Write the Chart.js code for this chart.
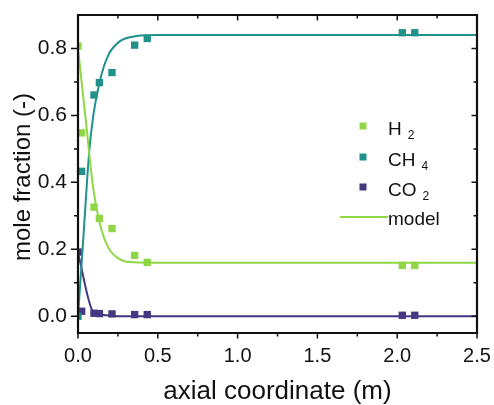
<!DOCTYPE html>
<html>
<head>
<meta charset="utf-8">
<script src="https://cdn.jsdelivr.net/npm/chart.js@4"></script>
<style>
  html, body { margin: 0; padding: 0; background: #fff; }
</style>
</head>
<body>
<canvas id="moleChart" width="494" height="405"></canvas>
<script>
const expX   = [0, 0.023, 0.10, 0.134, 0.213, 0.355, 0.434, 2.032, 2.11];
const h2Exp  = [0.807, 0.548, 0.326, 0.292, 0.262, 0.182, 0.161, 0.152, 0.152];
const ch4Exp = [0.0, 0.433, 0.661, 0.698, 0.728, 0.810, 0.830, 0.847, 0.847];
const co2Exp = [0.192, 0.015, 0.009, 0.008, 0.007, 0.005, 0.005, 0.003, 0.003];

// model curves
const h2ModelX  = [0, 0.05, 0.096, 0.138, 0.19, 0.263, 0.35, 0.5, 2.5];
const h2Model   = [0.80, 0.58, 0.38, 0.275, 0.205, 0.170, 0.161, 0.16, 0.16];
const ch4ModelX = [0, 0.033, 0.07, 0.096, 0.138, 0.19, 0.263, 0.368, 0.5, 2.5];
const ch4Model  = [0, 0.23, 0.49, 0.60, 0.705, 0.78, 0.822, 0.837, 0.84, 0.84];
const co2ModelX = [0, 0.096, 0.16, 0.25, 2.5];
const co2Model  = [0.19, 0.013, 0.004, 0.0, 0.0];

const xTicks = [0, 0.5, 1.0, 1.5, 2.0, 2.5];
const yTicks = [0, 0.2, 0.4, 0.6, 0.8];

const colH2 = '#8fd744';
const colCH4 = '#21918c';
const colCO2 = '#453781';
const FONT = '"Liberation Sans", Arial, sans-serif';
const INK = '#111';

const toPts = (xs, ys) => xs.map((x, i) => ({ x: x, y: ys[i] }));
const clipLeft = { left: 0, top: false, right: false, bottom: false };

function markerSet(label, xs, ys, color) {
    return {
        label: label,
        data: toPts(xs, ys),
        showLine: false,
        pointStyle: 'rect',
        pointRadius: 5.2,
        pointBorderWidth: 0,
        pointBackgroundColor: color,
        pointBorderColor: color,
        clip: clipLeft
    };
}

function modelSet(label, xs, ys, color) {
    return {
        label: label,
        data: toPts(xs, ys),
        showLine: true,
        borderColor: color,
        borderWidth: 2,
        pointRadius: 0,
        cubicInterpolationMode: 'monotone',
        clip: clipLeft
    };
}

// frame, minor ticks, axis titles and the key
const decorations = {
    id: 'decorations',
    afterDraw(chart) {
        const c = chart.ctx;
        const a = chart.chartArea;
        const xs = chart.scales.x;
        const ys = chart.scales.y;
        c.save();
        c.strokeStyle = INK;
        c.lineWidth = 2.2;
        c.beginPath();
        c.rect(a.left, a.top, a.right - a.left, a.bottom - a.top);
        c.stroke();

        c.lineWidth = 1.5;
        c.beginPath();
        xTicks.forEach((v, i) => {
            const px = xs.getPixelForValue(v);
            c.moveTo(px, a.bottom); c.lineTo(px, a.bottom + 5.5);
            c.moveTo(px, a.top); c.lineTo(px, a.top + 5.5);
            if (i < xTicks.length - 1) {
                const pm = xs.getPixelForValue((v + xTicks[i + 1]) / 2);
                c.moveTo(pm, a.bottom); c.lineTo(pm, a.bottom + 3.5);
                c.moveTo(pm, a.top); c.lineTo(pm, a.top + 3.5);
            }
        });
        yTicks.forEach((v, i) => {
            const py = ys.getPixelForValue(v);
            c.moveTo(a.left, py); c.lineTo(a.left - 7, py);
            c.moveTo(a.right, py); c.lineTo(a.right - 5.5, py);
            const next = i < yTicks.length - 1 ? yTicks[i + 1] : v + 0.2;
            const pm = ys.getPixelForValue((v + next) / 2);
            if (pm > a.top) {
                c.moveTo(a.left, pm); c.lineTo(a.left - 4, pm);
                c.moveTo(a.right, pm); c.lineTo(a.right - 3.5, pm);
            }
        });
        c.stroke();

        // axis titles
        c.fillStyle = INK;
        c.font = '26px ' + FONT;
        c.textAlign = 'center';
        c.textBaseline = 'alphabetic';
        c.fillText('axial coordinate (m)', (a.left + a.right) / 2, 399);

        c.save();
        c.translate(23, 177);
        c.rotate(-Math.PI / 2);
        c.font = '24px ' + FONT;
        c.textBaseline = 'middle';
        c.fillText('mole fraction (-)', 0, 0);
        c.restore();

        // key
        const keyRows = [
            { main: 'H', sub: '2', color: colH2, y: 126 },
            { main: 'CH', sub: '4', color: colCH4, y: 157 },
            { main: 'CO', sub: '2', color: colCO2, y: 187 }
        ];
        c.textAlign = 'left';
        c.textBaseline = 'alphabetic';
        keyRows.forEach(r => {
            c.fillStyle = r.color;
            c.fillRect(359.5, r.y - 3.5, 7, 7);
            c.fillStyle = INK;
            c.font = '19px ' + FONT;
            c.fillText(r.main, 388, r.y + 9);
            const w = c.measureText(r.main).width;
            c.font = '12px ' + FONT;
            c.fillText(r.sub, 388 + w + 6, r.y + 13);
        });
        c.strokeStyle = colH2;
        c.lineWidth = 2;
        c.beginPath();
        c.moveTo(340, 217); c.lineTo(388, 217);
        c.stroke();
        c.fillStyle = INK;
        c.font = '19px ' + FONT;
        c.fillText('model', 388, 225);
        c.restore();
    }
};

const ctx = document.getElementById('moleChart').getContext('2d');

const moleChart = new Chart(ctx, {
    type: 'scatter',
    data: {
        datasets: [
            markerSet('H2', expX, h2Exp, colH2),
            markerSet('CH4', expX, ch4Exp, colCH4),
            markerSet('CO2', expX, co2Exp, colCO2),
            modelSet('H2 model', h2ModelX, h2Model, colH2),
            modelSet('CH4 model', ch4ModelX, ch4Model, colCH4),
            modelSet('CO2 model', co2ModelX, co2Model, colCO2)
        ]
    },
    options: {
        responsive: false,
        animation: false,
        devicePixelRatio: 1,
        layout: { padding: { top: 15, right: 17, left: 0, bottom: 0 } },
        plugins: {
            legend: { display: false },
            tooltip: { enabled: false }
        },
        scales: {
            x: {
                type: 'linear',
                min: 0,
                max: 2.5,
                afterBuildTicks: s => { s.ticks = xTicks.map(v => ({ value: v })); },
                afterFit: s => { s.height = 72; s.paddingLeft = 0; s.paddingRight = 0; },
                grid: { display: false, drawTicks: false },
                border: { display: false },
                ticks: {
                    color: INK,
                    font: { family: FONT, size: 20 },
                    padding: 11,
                    maxRotation: 0,
                    callback: v => Number(v).toFixed(1)
                }
            },
            y: {
                type: 'linear',
                min: -0.05,
                max: 0.9,
                afterBuildTicks: s => { s.ticks = yTicks.map(v => ({ value: v })); },
                afterFit: s => { s.width = 78; s.paddingTop = 0; s.paddingBottom = 0; },
                grid: { display: false, drawTicks: false },
                border: { display: false },
                ticks: {
                    color: INK,
                    font: { family: FONT, size: 21 },
                    padding: 11,
                    callback: v => Number(v).toFixed(1)
                }
            }
        }
    },
    plugins: [decorations]
});
</script>
</body>
</html>
